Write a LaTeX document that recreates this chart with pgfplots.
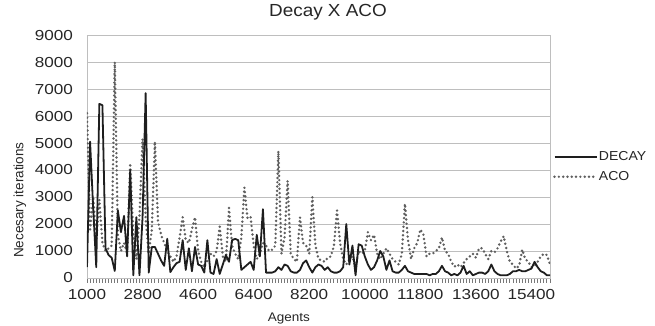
\documentclass[border=0pt]{standalone}
\usepackage{fontspec}
\setmainfont{Liberation Sans}
\newfontfamily\tickfont[FakeStretch=1.18]{Liberation Sans}
\newfontfamily\textfontS[FakeStretch=1.08]{Liberation Sans}
\usepackage{pgfplots}
\usepackage{pgfplotstable}
\pgfplotsset{compat=1.18}
\definecolor{gridgray}{RGB}{190,190,190}
\definecolor{tickgray}{RGB}{120,120,120}
\definecolor{acogray}{RGB}{95,95,95}
\definecolor{decayblack}{RGB}{30,30,30}
\pgfplotstableread{
x decay aco
1000 400 6100
1100 5050 1800
1200 2600 3000
1300 400 1400
1400 6450 2900
1500 6400 1300
1600 1100 1000
1700 850 1100
1800 750 1200
1900 260 8000
2000 2500 1600
2100 1700 1000
2200 2300 1300
2300 800 900
2400 4000 4250
2500 100 1600
2600 2250 700
2700 100 2300
2800 2250 5150
2900 6850 2200
3000 200 900
3100 1150 1800
3200 1150 5050
3300 900 2100
3400 650 1600
3500 450 1300
3600 1450 1000
3700 220 800
3800 400 600
3900 550 800
4000 600 1500
4100 1400 2250
4200 300 1400
4300 1100 1300
4400 250 1800
4500 1150 2250
4600 500 1000
4700 450 600
4800 200 400
4900 1400 650
5000 200 900
5100 150 800
5200 700 1000
5300 150 1900
5400 500 800
5500 850 600
5600 600 2600
5700 1400 1200
5800 1450 900
5900 1400 700
6000 300 1500
6100 400 3350
6200 500 2200
6300 600 2250
6400 300 1200
6500 1600 700
6600 800 900
6700 2550 1300
6800 200 1200
6900 200 1000
7000 200 1050
7100 250 1200
7200 400 4700
7300 300 900
7400 500 1500
7500 450 3600
7600 250 900
7700 200 700
7800 200 600
7900 300 2250
8000 550 1300
8100 650 1200
8200 400 900
8300 200 3000
8400 400 1200
8500 500 700
8600 450 650
8700 300 600
8800 400 750
8900 250 800
9000 200 1200
9100 200 2500
9200 250 1300
9300 400 700
9400 2000 500
9500 500 700
9600 1200 800
9700 100 400
9800 1250 1000
9900 1200 900
10000 800 1000
10100 500 1700
10200 300 1400
10300 400 1600
10400 650 900
10500 1000 700
10600 800 900
10700 300 1100
10800 650 900
10900 250 700
11000 200 600
11100 200 500
11200 300 900
11300 450 2750
11400 250 1400
11500 200 700
11600 150 1100
11700 150 1300
11800 150 1800
11900 150 1600
12000 150 800
12100 100 900
12200 150 900
12300 150 1000
12400 250 1100
12500 450 1500
12600 250 1000
12700 200 900
12800 100 600
12900 150 420
13000 100 500
13100 200 400
13200 450 550
13300 150 700
13400 250 800
13500 100 900
13600 150 750
13700 200 1100
13800 200 1100
13900 150 900
14000 250 700
14100 500 1000
14200 250 950
14300 150 1100
14400 100 1350
14500 100 1550
14600 100 1000
14700 150 600
14800 250 500
14900 250 350
15000 300 450
15100 250 1050
15200 250 700
15300 300 600
15400 350 400
15500 600 450
15600 400 600
15700 250 800
15800 200 900
15900 100 850
16000 100 500
}\datatable
\begin{document}
\begin{tikzpicture}
\useasboundingbox (-87pt,-47pt) rectangle (568pt,278pt);
\begin{axis}[
  at={(0pt,0pt)}, anchor=south west,
  scale only axis,
  width=463pt, height=243pt,
  xmin=1000, xmax=16000,
  ymin=0, ymax=9000,
  scaled x ticks=false, scaled y ticks=false,
  xtick={1000,2800,4600,6400,8200,10000,11800,13600,15400},
  minor xtick={1000,1100,...,16000},
  ytick={0,1000,...,9000},
  axis line style={gridgray, line width=0.8pt},
  major grid style={gridgray, line width=0.8pt},
  ymajorgrids=true,
  xmajorgrids=false,
  xtick pos=bottom,
  ytick pos=left,
  xtick align=outside,
  ytick align=outside,
  major tick length=4.5pt,
  minor tick length=4.5pt,
  every tick/.style={draw=tickgray, line width=0.9pt},
  ytick style={draw opacity=0},
  /pgf/number format/assume math mode=true,
  /pgf/number format/1000 sep={},
  tick label style={font=\fontsize{14.5}{14.5}\tickfont, text=black!85},
  xticklabel style={yshift=-3pt},
  yticklabel style={xshift=-6pt},
  title={Decay X ACO},
  title style={at={(0.5,1)}, anchor=center, yshift=17pt, xshift=9.5pt, font=\fontsize{17.5}{17.5}\textfontS, text=black!85},
  xlabel={Agents},
  xlabel style={at={(0.436,-0.165)}, anchor=center, font=\fontsize{12.5}{12.5}\textfontS, text=black!85},
  ylabel={Necesary iterations},
  ylabel style={at={(-0.145,0.321)}, anchor=center, rotate=0, font=\fontsize{13.5}{13.5}\selectfont, text=black!85},
  legend style={at={(1,0.457)}, xshift=3pt, anchor=west, draw=none, fill=none,
    font=\fontsize{13}{13}\textfontS, inner sep=0pt, row sep=7pt,
    nodes={inner sep=1pt, text=black!85}},
  legend cell align=left,
  legend image code/.code={\draw[#1] (0pt,0pt) -- (42pt,0pt);},
  reverse legend,
]
\addplot[acogray, line width=2.7pt, dash pattern=on 0pt off 4.3pt, line cap=round] table[x=x, y=aco] {\datatable};
\addlegendentry{ACO}
\addplot[decayblack, line width=1.8pt, line join=round] table[x=x, y=decay] {\datatable};
\addlegendentry{DECAY}
\end{axis}
\end{tikzpicture}
\end{document}
